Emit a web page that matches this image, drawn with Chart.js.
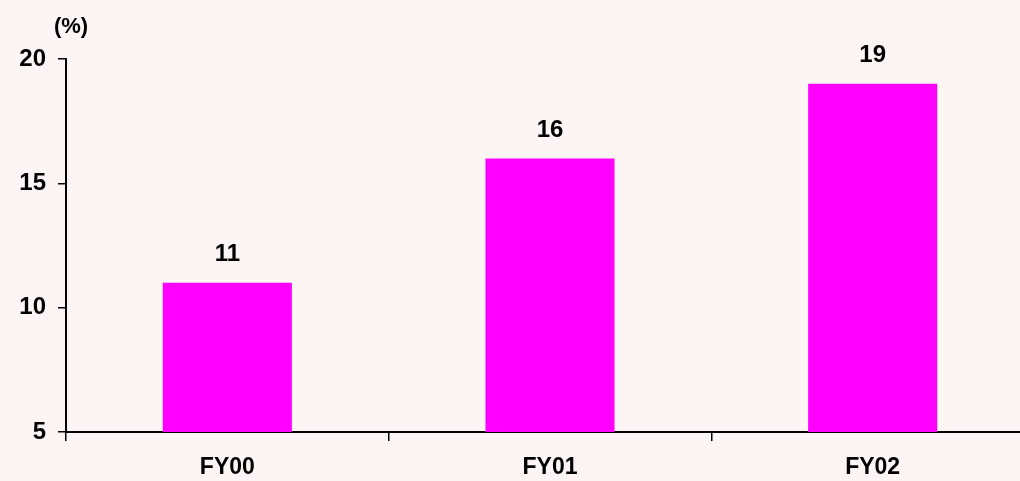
<!DOCTYPE html>
<html>
<head>
<meta charset="utf-8">
<script src="https://cdn.jsdelivr.net/npm/chart.js@4/dist/chart.umd.min.js"></script>
<style>
html,body{margin:0;padding:0;overflow:hidden;background:#fcf5f3;}
#wrap{position:relative;width:1034px;height:481px;}
</style>
</head>
<body>
<div id="wrap"><canvas id="c" width="1034" height="481"></canvas></div>
<script>
const categories = ['FY00', 'FY01', 'FY02'];
const values = [11, 16, 19];
const yTicks = [5, 10, 15, 20];
const unitLabel = '(%)';

const FONT = '"Liberation Sans", Arial, Helvetica, sans-serif';

const labelPlugin = {
  id: 'labels',
  afterDatasetsDraw(chart) {
    const ctx = chart.ctx;
    const meta = chart.getDatasetMeta(0);
    ctx.save();
    ctx.font = 'bold 24px ' + FONT;
    ctx.fillStyle = '#000';
    ctx.textAlign = 'center';
    ctx.textBaseline = 'middle';
    meta.data.forEach((bar, i) => {
      ctx.fillText(String(values[i]), bar.x, bar.y - 28);
    });
    ctx.font = 'bold 22px ' + FONT;
    ctx.fillText(unitLabel, 71, 27);
    ctx.restore();
  }
};

new Chart(document.getElementById('c'), {
  type: 'bar',
  data: {
    labels: categories,
    datasets: [{
      data: values,
      backgroundColor: '#ff00ff',
      borderWidth: 0,
      barPercentage: 0.4,
      categoryPercentage: 1.0
    }]
  },
  options: {
    responsive: false,
    animation: false,
    layout: { padding: { top: 59, right: 0, left: 0, bottom: 0 } },
    plugins: { legend: { display: false }, tooltip: { enabled: false } },
    scales: {
      x: {
        offset: true,
        afterFit(s) { s.height = 49; },
        grid: { offset: true, drawOnChartArea: false, drawTicks: true, tickLength: 9, color: '#000', lineWidth: 1.5 },
        border: { display: true, color: '#000', width: 2 },
        ticks: { color: '#000', font: { family: FONT, size: 23, weight: 'bold' }, padding: 13, maxRotation: 0 }
      },
      y: {
        min: 5, max: 20,
        afterFit(s) { s.width = 66; },
        afterBuildTicks(s) { s.ticks = yTicks.map(v => ({ value: v })); },
        grid: { drawOnChartArea: false, drawTicks: true, tickLength: 8, color: '#000', lineWidth: 1.5 },
        border: { display: true, color: '#000', width: 2 },
        ticks: { color: '#000', font: { family: FONT, size: 24, weight: 'bold' }, padding: 12 }
      }
    }
  },
  plugins: [labelPlugin]
});
</script>
</body>
</html>
